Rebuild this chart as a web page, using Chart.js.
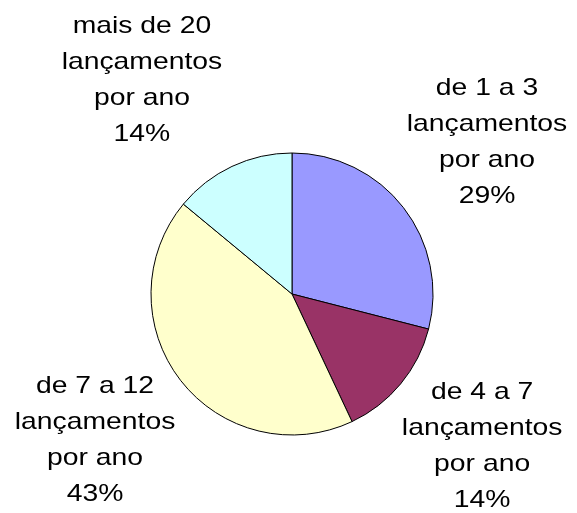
<!DOCTYPE html>
<html>
<head>
<meta charset="utf-8">
<script src="https://cdn.jsdelivr.net/npm/chart.js@4/dist/chart.umd.min.js"></script>
<style>
html,body{margin:0;padding:0;background:#fff;}
#wrap{width:577px;height:513px;}
</style>
</head>
<body>
<div id="wrap"><canvas id="c" width="577" height="513"></canvas></div>
<script>
const categories = [
  ["de 1 a 3", "lançamentos", "por ano"],
  ["de 4 a 7", "lançamentos", "por ano"],
  ["de 7 a 12", "lançamentos", "por ano"],
  ["mais de 20", "lançamentos", "por ano"]
];
const values = [29, 14, 43, 14];
const colors = ["#9999FF", "#993366", "#FFFFCC", "#CCFFFF"];

const labelPlugin = {
  id: 'outerLabels',
  afterDatasetsDraw(chart, args, opts) {
    const ctx = chart.ctx;
    const meta = chart.getDatasetMeta(0);
    const total = values.reduce((a, b) => a + b, 0);
    ctx.save();
    ctx.fillStyle = '#000';
    ctx.font = '24px "Liberation Sans", Arial, sans-serif';
    ctx.textAlign = 'center';
    ctx.textBaseline = 'middle';
    meta.data.forEach((arc, i) => {
      const mid = (arc.startAngle + arc.endAngle) / 2;
      const d = arc.outerRadius * opts.distance;
      const adj = opts.adjust[i] || [0, 0];
      const cx = arc.x + Math.cos(mid) * d + adj[0];
      const cy = arc.y + Math.sin(mid) * d + adj[1];
      const lines = categories[i].concat([Math.round(values[i] / total * 100) + '%']);
      const lh = opts.lineHeight;
      const y0 = cy - (lines.length - 1) * lh / 2;
      lines.forEach((t, k) => {
        ctx.save();
        ctx.translate(cx, y0 + k * lh);
        ctx.scale(opts.scaleX, 1);
        ctx.fillText(t, 0, 0);
        ctx.restore();
      });
    });
    ctx.restore();
  }
};

new Chart(document.getElementById('c'), {
  type: 'pie',
  data: {
    labels: categories.map(c => c.join(' ')),
    datasets: [{
      data: values,
      backgroundColor: colors,
      borderColor: '#000000',
      borderWidth: 1,
      radius: 141
    }]
  },
  options: {
    responsive: false,
    animation: false,
    layout: { padding: { left: 7, right: 0, top: 75, bottom: 0 } },
    plugins: {
      legend: { display: false },
      tooltip: { enabled: false },
      outerLabels: { distance: 1.75, lineHeight: 36, scaleX: 1.18, adjust: [[0, 0], [0, -5], [-2, -5], [-45, 10]] }
    }
  },
  plugins: [labelPlugin]
});
</script>
</body>
</html>
